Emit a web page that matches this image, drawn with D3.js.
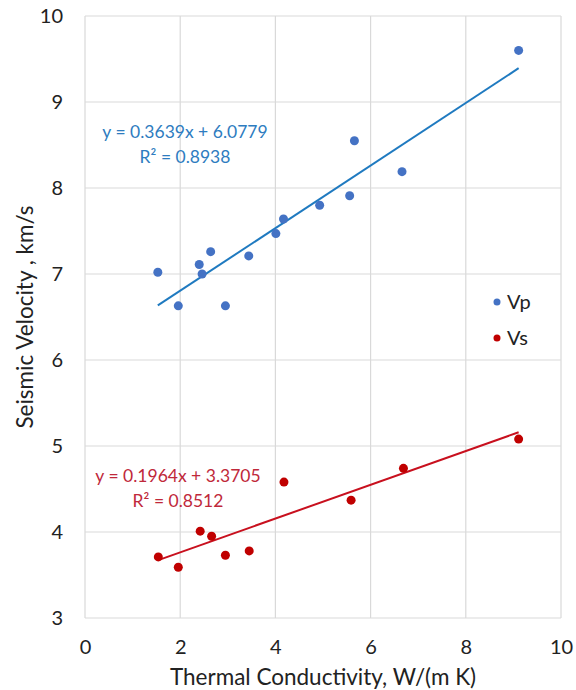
<!DOCTYPE html>
<html>
<head>
<meta charset="utf-8">
<script src="https://cdn.jsdelivr.net/npm/d3@7"></script>
<style>
  html, body { margin: 0; padding: 0; background: #fff; }
  #chart { width: 576px; height: 690px; }
  text { font-family: Lato, "Open Sans", sans-serif; }
</style>
</head>
<body>
<div id="chart"></div>
<script>
// Thermal conductivity W/(m K) and P-wave velocity km/s
const vpX = [9.11, 5.66, 6.66, 5.56, 4.93, 4.17, 4.01, 3.44, 2.64, 2.40, 2.46, 1.53, 1.96, 2.95];
const vpY = [9.60, 8.55, 8.19, 7.91, 7.80, 7.64, 7.47, 7.21, 7.26, 7.11, 7.00, 7.02, 6.63, 6.63];

// S-wave velocity km/s
const vsX = [9.11, 6.69, 5.59, 4.18, 2.42, 2.66, 1.54, 1.96, 2.95, 3.45];
const vsY = [5.08, 4.74, 4.37, 4.58, 4.01, 3.95, 3.71, 3.59, 3.73, 3.78];

// trendline coefficients as printed on the chart
const vpFit = { slope: 0.3639, intercept: 6.0779, r2: "0.8938" };
const vsFit = { slope: 0.1964, intercept: 3.3705, r2: "0.8512" };

const xTicks = [0, 2, 4, 6, 8, 10];
const yTicks = [3, 4, 5, 6, 7, 8, 9, 10];

const width = 576, height = 690;
const margin = { top: 16, right: 15, bottom: 72, left: 85 };

const svg = d3.select("#chart")
  .append("svg")
  .attr("width", width)
  .attr("height", height);

const x = d3.scaleLinear().domain([0, 10]).range([margin.left, width - margin.right]);
const y = d3.scaleLinear().domain([3, 10]).range([height - margin.bottom, margin.top]);

// gridlines
svg.append("g")
  .selectAll("line")
  .data(xTicks)
  .enter()
  .append("line")
  .attr("x1", d => x(d)).attr("x2", d => x(d))
  .attr("y1", y(3)).attr("y2", y(10))
  .attr("stroke", "#d9d9d9")
  .attr("stroke-width", 1.2);

svg.append("g")
  .selectAll("line")
  .data(yTicks)
  .enter()
  .append("line")
  .attr("x1", x(0)).attr("x2", x(10))
  .attr("y1", d => y(d)).attr("y2", d => y(d))
  .attr("stroke", "#d9d9d9")
  .attr("stroke-width", 1.2);

// axes (labels only)
const xAxis = svg.append("g")
  .attr("transform", `translate(0, ${y(3)})`)
  .call(d3.axisBottom(x).tickValues(xTicks).tickFormat(d3.format("d")).tickSize(0).tickPadding(22));
xAxis.select(".domain").remove();
xAxis.selectAll("text")
  .style("font-size", "20px")
  .style("font-family", "Lato, sans-serif")
  .attr("fill", "#222");

const yAxis = svg.append("g")
  .attr("transform", `translate(${x(0)}, 0)`)
  .call(d3.axisLeft(y).tickValues(yTicks).tickFormat(d3.format("d")).tickSize(0).tickPadding(22));
yAxis.select(".domain").remove();
yAxis.selectAll("text")
  .style("font-size", "20px")
  .style("font-family", "Lato, sans-serif")
  .attr("fill", "#222");

// axis titles
svg.append("text")
  .attr("x", 323)
  .attr("y", 685)
  .attr("text-anchor", "middle")
  .style("font-size", "22.5px")
  .attr("fill", "#222")
  .text("Thermal Conductivity, W/(m K)");

svg.append("text")
  .attr("transform", `translate(33, 317) rotate(-90)`)
  .attr("text-anchor", "middle")
  .style("font-size", "22.5px")
  .attr("fill", "#222")
  .text("Seismic Velocity , km/s");

// trendlines + points
const series = [
  { name: "Vp", xs: vpX, ys: vpY, fit: vpFit, dot: "#4472c4", line: "#1f7ac0", text: "#2e7cc0" },
  { name: "Vs", xs: vsX, ys: vsY, fit: vsFit, dot: "#c00000", line: "#c8101e", text: "#c0283a" }
];

series.forEach(s => {
  const [x0, x1] = d3.extent(s.xs);
  svg.append("line")
    .attr("x1", x(x0)).attr("y1", y(s.fit.slope * x0 + s.fit.intercept))
    .attr("x2", x(x1)).attr("y2", y(s.fit.slope * x1 + s.fit.intercept))
    .attr("stroke", s.line)
    .attr("stroke-width", 2);

  svg.append("g")
    .selectAll("circle")
    .data(s.xs.map((v, i) => [v, s.ys[i]]))
    .enter()
    .append("circle")
    .attr("cx", d => x(d[0]))
    .attr("cy", d => y(d[1]))
    .attr("r", 4.5)
    .attr("fill", s.dot);
});

// equation labels
const eqPos = [
  { cx: 185, cy: 138 },
  { cx: 178, cy: 482 }
];
series.forEach((s, i) => {
  const g = svg.append("g").attr("fill", s.text).style("font-size", "17.5px");
  g.append("text")
    .attr("x", eqPos[i].cx).attr("y", eqPos[i].cy)
    .attr("text-anchor", "middle")
    .text(`y = ${s.fit.slope}x + ${s.fit.intercept}`);
  g.append("text")
    .attr("x", eqPos[i].cx).attr("y", eqPos[i].cy + 25)
    .attr("text-anchor", "middle")
    .text(`R² = ${s.fit.r2}`);
});

// legend
const legend = svg.append("g")
  .selectAll("g")
  .data(series)
  .enter()
  .append("g")
  .attr("transform", (d, i) => `translate(497, ${302 + i * 36})`);
legend.append("circle").attr("r", 3.5).attr("fill", d => d.dot);
legend.append("text")
  .attr("x", 10).attr("y", 7)
  .style("font-size", "20px")
  .attr("fill", "#222")
  .text(d => d.name);
</script>
</body>
</html>
